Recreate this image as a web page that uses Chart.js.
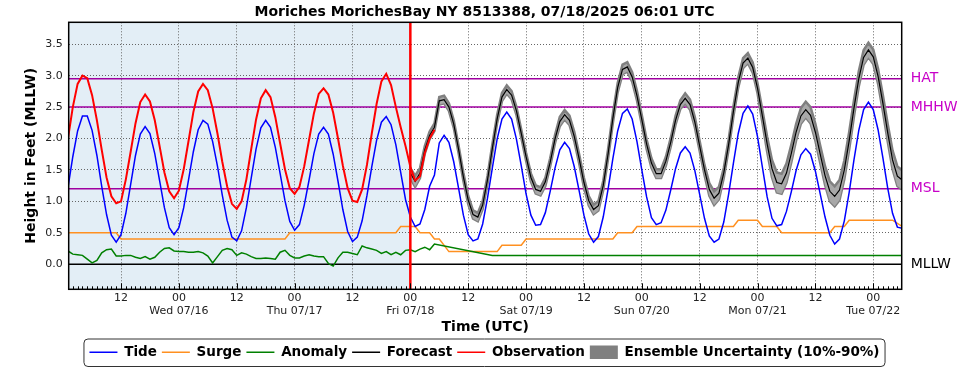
<!DOCTYPE html>
<html><head><meta charset="utf-8">
<script src="https://cdn.jsdelivr.net/npm/chart.js@4.4.1/dist/chart.umd.min.js"></script>
<style>html,body{margin:0;padding:0;background:#fff;}#wrap{width:969px;height:370px;}</style>
</head><body><div id="wrap"><canvas id="c" width="969" height="370"></canvas></div>
<script>
const titleText = 'Moriches MorichesBay NY 8513388, 07/18/2025 06:01 UTC';
// hours relative to Fri 07/18 00:00 UTC
const firstTideHour = -71;
const tide = [1.22,1.71,2.12,2.36,2.36,2.13,1.73,1.24,0.79,0.46,0.35,0.47,0.81,1.27,1.73,2.07,2.19,2.08,1.76,1.33,0.90,0.58,0.47,0.58,0.90,1.34,1.79,2.14,2.29,2.23,1.95,1.56,1.10,0.70,0.43,0.37,0.53,0.90,1.37,1.83,2.17,2.29,2.18,1.86,1.44,1.01,0.68,0.54,0.63,0.94,1.34,1.76,2.07,2.18,2.07,1.75,1.32,0.87,0.52,0.36,0.43,0.69,1.09,1.55,1.97,2.26,2.35,2.22,1.90,1.46,1.03,0.75,0.60,0.64,0.87,1.24,1.42,1.93,2.05,1.94,1.63,1.21,0.78,0.47,0.37,0.40,0.64,1.05,1.53,1.99,2.31,2.42,2.31,1.99,1.57,1.12,0.78,0.62,0.63,0.82,1.16,1.53,1.82,1.94,1.84,1.55,1.17,0.78,0.48,0.35,0.44,0.75,1.19,1.68,2.12,2.40,2.47,2.31,1.95,1.50,1.07,0.74,0.63,0.66,0.86,1.18,1.52,1.77,1.87,1.77,1.49,1.11,0.73,0.45,0.35,0.40,0.67,1.11,1.61,2.08,2.40,2.52,2.39,2.03,1.55,1.07,0.73,0.61,0.63,0.84,1.15,1.49,1.74,1.84,1.75,1.48,1.12,0.75,0.46,0.32,0.40,0.69,1.14,1.66,2.13,2.46,2.58,2.46,2.14,1.69,1.21,0.81,0.59,0.57];
const firstObsHour = -71;
const observation = [2.00,2.50,2.87,3.00,2.96,2.69,2.29,1.82,1.38,1.08,0.97,1.00,1.35,1.79,2.24,2.58,2.70,2.59,2.29,1.88,1.46,1.16,1.05,1.17,1.51,1.96,2.42,2.75,2.87,2.77,2.48,2.08,1.63,1.24,0.96,0.88,1.00,1.35,1.83,2.30,2.64,2.77,2.66,2.34,1.92,1.51,1.21,1.12,1.23,1.56,1.98,2.40,2.71,2.80,2.70,2.41,2.00,1.57,1.21,1.01,0.99,1.19,1.58,2.08,2.55,2.91,3.03,2.85,2.50,2.18,1.88,1.55,1.33,1.40,1.77,2.00,2.14];
const firstForecastHour = 0;
const forecast = [1.45,1.32,1.45,1.82,2.05,2.18,2.60,2.62,2.50,2.23,1.83,1.39,1.02,0.79,0.75,0.94,1.34,1.84,2.31,2.66,2.78,2.69,2.44,2.08,1.71,1.38,1.19,1.16,1.31,1.62,1.99,2.27,2.38,2.29,2.03,1.68,1.30,1.01,0.87,0.93,1.25,1.75,2.32,2.81,3.10,3.14,2.98,2.68,2.30,1.91,1.61,1.44,1.44,1.64,1.94,2.29,2.54,2.64,2.54,2.26,1.88,1.50,1.19,1.05,1.13,1.45,1.90,2.43,2.89,3.20,3.28,3.13,2.80,2.36,1.91,1.52,1.30,1.28,1.45,1.76,2.10,2.36,2.46,2.37,2.10,1.75,1.41,1.16,1.08,1.18,1.50,1.96,2.48,2.95,3.29,3.41,3.30,2.99,2.56,2.09,1.66,1.40,1.34];
// half width of the 10%-90% ensemble band, per forecast hour
const ensembleSpread = [0.08,0.09,0.08,0.06,0.06,0.06,0.06,0.06,0.06,0.06,0.06,0.065,0.065,0.065,0.065,0.065,0.065,0.065,0.065,0.065,0.065,0.065,0.065,0.065,0.065,0.065,0.065,0.065,0.065,0.065,0.065,0.075,0.075,0.075,0.075,0.075,0.075,0.075,0.075,0.075,0.075,0.075,0.075,0.075,0.075,0.075,0.075,0.075,0.075,0.075,0.075,0.07,0.07,0.07,0.07,0.07,0.07,0.08,0.08,0.08,0.08,0.08,0.1,0.11,0.1,0.08,0.08,0.08,0.08,0.08,0.08,0.08,0.08,0.1,0.12,0.14,0.16,0.16,0.15,0.14,0.13,0.125,0.125,0.13,0.135,0.14,0.15,0.16,0.16,0.16,0.15,0.14,0.13,0.12,0.115,0.115,0.115,0.12,0.13,0.14,0.15,0.155,0.155];
const surgeHours = [-71,-61,-60,-26,-25,-3,-2,1,2,4,5,6,8,18,19,23,24,42,43,46,47,67,68,72,73,76,77,87,88,90,91,100,102];
const surgeValues = [0.5,0.5,0.4,0.4,0.5,0.5,0.6,0.6,0.5,0.5,0.4,0.4,0.2,0.2,0.3,0.3,0.4,0.4,0.5,0.5,0.6,0.6,0.7,0.7,0.6,0.6,0.5,0.5,0.6,0.6,0.7,0.7,0.6];
const anomalyHours = [-71,-70,-69,-68,-67,-66,-65,-64,-63,-62,-61,-60,-59,-58,-57,-56,-55,-54,-53,-52,-51,-50,-49,-48,-47,-46,-45,-44,-43,-42,-41,-40,-39,-38,-37,-36,-35,-34,-33,-32,-31,-30,-29,-28,-27,-26,-25,-24,-23,-22,-21,-20,-19,-18,-17,-16,-15,-14,-13,-12,-11,-10,-9,-8,-7,-6,-5,-4,-3,-2,-1,0,1,2,3,4,5,17,102];
const anomalyValues = [0.21,0.16,0.15,0.14,0.08,0.02,0.06,0.18,0.23,0.24,0.13,0.13,0.14,0.14,0.11,0.09,0.12,0.08,0.11,0.19,0.25,0.26,0.21,0.20,0.20,0.19,0.19,0.20,0.18,0.13,0.02,0.12,0.22,0.25,0.23,0.14,0.18,0.16,0.12,0.09,0.09,0.10,0.09,0.08,0.19,0.22,0.14,0.10,0.10,0.13,0.15,0.13,0.12,0.12,0.01,-0.03,0.10,0.19,0.19,0.17,0.15,0.29,0.26,0.24,0.22,0.17,0.20,0.15,0.19,0.15,0.22,0.23,0.20,0.24,0.27,0.23,0.32,0.14,0.14];
const xTickHours = [-60,-48,-36,-24,-12,0,12,24,36,48,60,72,84,96];
const dayTickHours = [-48,-24,0,24,48,72,96];
const dayLabels = ['Wed 07/16','Thu 07/17','Fri 07/18','Sat 07/19','Sun 07/20','Mon 07/21','Tue 07/22'];
const yTicks = [0,0.5,1,1.5,2,2.5,3,3.5];
const datumNames = ['HAT','MHHW','MSL','MLLW'];
const datumLevels = [2.95,2.50,1.20,0];
const nowHour = 0;

const PAD_BOTTOM = 1;
const AREA_BOTTOM = 289.3;
const FONT = "'DejaVu Sans', sans-serif";
const series = (start, arr) => arr.map((v, i) => ({x: start + i, y: v}));
const zip = (xs, ys) => xs.map((x, i) => ({x: x, y: ys[i]}));
const ensLow = forecast.map((v, i) => ({x: firstForecastHour + i, y: v - ensembleSpread[i]}));
const ensHigh = forecast.map((v, i) => ({x: firstForecastHour + i, y: v + ensembleSpread[i]}));

const decor = {
  id: 'decor',
  beforeDraw(chart) {
    const {ctx, chartArea: a, scales: {x}} = chart;
    ctx.save();
    ctx.fillStyle = '#fff';
    ctx.fillRect(0, 0, chart.width, chart.height);
    ctx.fillStyle = '#e3eef6';
    ctx.fillRect(a.left, a.top, x.getPixelForValue(nowHour) - a.left, a.bottom - a.top);
    ctx.restore();
  },
  beforeDatasetsDraw(chart) {
    const {ctx, chartArea: a, scales: {y}} = chart;
    ctx.save();
    datumLevels.forEach((lv, i) => {
      const py = y.getPixelForValue(lv);
      ctx.strokeStyle = datumNames[i] === 'MLLW' ? '#000' : '#a000a0';
      ctx.lineWidth = 1.5;
      ctx.beginPath(); ctx.moveTo(a.left, py); ctx.lineTo(a.right, py); ctx.stroke();
    });
    ctx.restore();
  },
  afterDatasetsDraw(chart) {
    const {ctx, chartArea: a, scales: {x}} = chart;
    ctx.save();
    const px = x.getPixelForValue(nowHour);
    ctx.strokeStyle = '#ff0000'; ctx.lineWidth = 2.5;
    ctx.beginPath(); ctx.moveTo(px, a.top); ctx.lineTo(px, a.bottom); ctx.stroke();
    ctx.restore();
  },
  afterDraw(chart) {
    const {ctx, chartArea: a, scales: {x, y}} = chart;
    ctx.save();
    ctx.strokeStyle = '#000'; ctx.lineWidth = 1;
    for (let h = Math.ceil(x.min); h <= Math.floor(x.max); h++) {
      const px = Math.round(x.getPixelForValue(h)) + 0.5;
      const len = (h % 12 === 0) ? 6 : 3;
      ctx.beginPath(); ctx.moveTo(px, a.bottom); ctx.lineTo(px, a.bottom - len); ctx.stroke();
    }
    ctx.lineWidth = 1.5;
    ctx.strokeRect(a.left, a.top, a.right - a.left, a.bottom - a.top);
    ctx.font = '14px ' + FONT;
    ctx.textBaseline = 'middle'; ctx.textAlign = 'left';
    datumLevels.forEach((lv, i) => {
      ctx.fillStyle = datumNames[i] === 'MLLW' ? '#000' : '#c800c8';
      ctx.fillText(datumNames[i], a.right + 9, y.getPixelForValue(lv));
    });
    const hb = chart.legend.legendHitBoxes;
    if (hb && hb.length) {
      const l = Math.min(...hb.map(h => h.left)) - 6;
      const r = Math.max(...hb.map(h => h.left + h.width)) + 5;
      const t = hb[0].top - 7, b = hb[0].top + hb[0].height + 7;
      ctx.strokeStyle = '#333'; ctx.lineWidth = 1;
      ctx.beginPath();
      if (ctx.roundRect) ctx.roundRect(l + 0.5, t + 0.5, r - l, b - t, 4); else ctx.rect(l + 0.5, t + 0.5, r - l, b - t);
      ctx.stroke();
    }
    ctx.restore();
  }
};

const lineDs = (label, data, color, width, order) => ({
  label, data, borderColor: color, backgroundColor: color, borderWidth: width,
  pointRadius: 0, tension: 0, fill: false, order
});

new Chart(document.getElementById('c'), {
  type: 'line',
  data: {
    datasets: [
      lineDs('Tide', series(firstTideHour, tide), '#0000ff', 1.5, 3),
      lineDs('Surge', zip(surgeHours, surgeValues), '#ff9020', 1.5, 5),
      lineDs('Anomaly', zip(anomalyHours, anomalyValues), '#008000', 1.5, 4),
      lineDs('Forecast', series(firstForecastHour, forecast), '#000000', 1.2, 2),
      lineDs('Observation', series(firstObsHour, observation), '#ff0000', 2, 1),
      lineDs('ensLow', ensLow, '#808080', 2.5, 7),
      Object.assign(lineDs('ensHigh', ensHigh, '#808080', 2.5, 6), {fill: '-1', backgroundColor: '#a8a8a8'})
    ]
  },
  options: {
    responsive: false, animation: false, devicePixelRatio: 1,
    layout: {padding: {left: 0, right: 0, top: 0, bottom: PAD_BOTTOM}},
    plugins: {
      tooltip: {enabled: false},
      title: {display: true, text: titleText, color: '#000',
        font: {family: FONT, size: 14, weight: 'bold', lineHeight: 1.2}, padding: {top: 4, bottom: 1.5}},
      legend: {
        position: 'bottom', onClick: null,
        labels: {
          usePointStyle: true, pointStyleWidth: 28, boxHeight: 14, padding: 5,
          color: '#000', font: {family: FONT, size: 13.5, weight: 'bold'},
          generateLabels: () => [
            {text: 'Tide', strokeStyle: '#0000ff', fillStyle: '#0000ff', lineWidth: 1.5, pointStyle: 'line'},
            {text: 'Surge', strokeStyle: '#ff9020', fillStyle: '#ff9020', lineWidth: 1.5, pointStyle: 'line'},
            {text: 'Anomaly', strokeStyle: '#008000', fillStyle: '#008000', lineWidth: 1.5, pointStyle: 'line'},
            {text: 'Forecast', strokeStyle: '#000000', fillStyle: '#000000', lineWidth: 1.5, pointStyle: 'line'},
            {text: 'Observation', strokeStyle: '#ff0000', fillStyle: '#ff0000', lineWidth: 1.5, pointStyle: 'line'},
            {text: 'Ensemble Uncertainty (10%-90%)', strokeStyle: '#808080', fillStyle: '#808080', lineWidth: 0, pointStyle: 'rect'}
          ]
        }
      }
    },
    scales: {
      x: {
        type: 'linear', min: -70.85, max: 101.9,
        afterBuildTicks: s => { s.ticks = xTickHours.map(v => ({value: v})); },
        afterFit: s => { s.height = s.chart.height - PAD_BOTTOM - s.chart.legend.height - AREA_BOTTOM; },
        grid: {color: '#666', lineWidth: 1, drawTicks: false},
        border: {display: false, dash: [1, 2]},
        ticks: {
          padding: 3, maxRotation: 0, autoSkip: false, color: '#222',
          font: {family: FONT, size: 11, lineHeight: 1.15},
          callback: v => { const k = dayTickHours.indexOf(v); return k >= 0 ? ['00', dayLabels[k]] : '12'; }
        },
        title: {display: true, text: 'Time (UTC)', color: '#000', font: {family: FONT, size: 14, weight: 'bold'}, padding: {top: 0, bottom: 5}}
      },
      y: {
        type: 'linear', min: -0.4, max: 3.85,
        afterBuildTicks: s => { s.ticks = yTicks.map(v => ({value: v})); },
        afterFit: s => { s.width = 68.7; },
        grid: {color: '#666', lineWidth: 1, drawTicks: false},
        border: {display: false, dash: [1, 2]},
        ticks: {padding: 6, color: '#222', font: {family: FONT, size: 11}, callback: v => v.toFixed(1)},
        title: {display: true, text: 'Height in Feet (MLLW)', color: '#000', font: {family: FONT, size: 14, weight: 'bold'}, padding: {top: 23, bottom: 0}}
      },
      yRight: {
        type: 'linear', position: 'right', min: -0.4, max: 3.85,
        afterFit: s => { s.width = 67.3; },
        grid: {display: false}, border: {display: false},
        ticks: {display: false}
      }
    }
  },
  plugins: [decor]
});
</script></body></html>
